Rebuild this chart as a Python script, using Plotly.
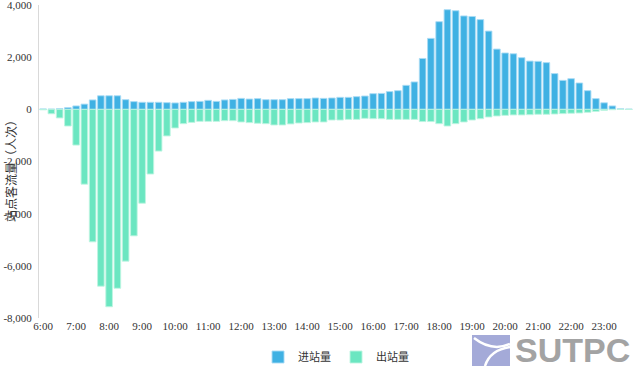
import plotly.graph_objects as go

times = [f"{h}:{m:02d}" for h in range(6, 24) for m in (0, 15, 30, 45)]
hour_labels = [f"{h}:00" for h in range(6, 24)]

inbound = [15, 10, 25, 65, 130, 200, 360, 520, 520, 520, 370, 295, 270, 270, 270, 255,
           245, 270, 295, 305, 345, 305, 360, 380, 420, 395, 410, 370, 370, 370, 410, 410,
           410, 435, 420, 435, 460, 460, 485, 510, 600, 610, 680, 715, 920, 1050, 1950, 2720,
           3360, 3820, 3780, 3580, 3560, 3440, 3000, 2310, 2160, 2130, 1980, 1850, 1840, 1790,
           1370, 1110, 1175, 1010, 715, 410, 250, 130, 20, 10]

outbound = [-20, -170, -330, -640, -1370, -2870, -5080, -6780, -7570, -6860, -5820, -4850,
            -3600, -2480, -1600, -1020, -715, -550, -500, -460, -460, -460, -435, -435,
            -485, -510, -535, -550, -600, -600, -560, -525, -510, -485, -485, -410,
            -410, -385, -385, -345, -360, -360, -385, -385, -385, -385, -470, -470,
            -550, -640, -550, -485, -410, -360, -295, -255, -230, -215, -215, -205,
            -190, -190, -180, -165, -150, -140, -115, -80, -40, -15, -5, -5]

y_ticks = [-8000, -6000, -4000, -2000, 0, 2000, 4000]
y_tick_text = [f"{v:,}" for v in y_ticks]

fig = go.Figure()
fig.add_trace(go.Bar(x=times, y=inbound, name="进站量",
                     marker=dict(color="#3fb1e3", line=dict(color="rgba(170,220,245,0.9)", width=1))))
fig.add_trace(go.Bar(x=times, y=outbound, name="出站量",
                     marker=dict(color="#6be6c1", line=dict(color="rgba(190,245,225,0.9)", width=1))))

fig.update_layout(
    width=634, height=366,
    margin=dict(l=39, r=1, t=5, b=48, autoexpand=False),
    barmode="relative", bargap=0.2,
    plot_bgcolor="white", paper_bgcolor="white",
    font=dict(family="Liberation Serif", size=11, color="#333"),
    showlegend=True,
    legend=dict(orientation="h", x=0.53, xanchor="center", xref="container",
                y=(366 - 357) / 366, yanchor="middle", yref="container",
                font=dict(family="Noto Sans CJK SC", size=11, color="#333"),
                itemwidth=30, traceorder="normal"),
    xaxis=dict(type="category", range=[-0.5, 71.5], tickmode="array",
               tickvals=hour_labels, ticktext=hour_labels, showgrid=False,
               showline=False, ticks="", tickangle=0, automargin=False,
               ticklabeloverflow="allow",
               tickfont=dict(family="Liberation Serif", size=11, color="#333")),
    yaxis=dict(range=[-8000, 4000], tickmode="array", tickvals=y_ticks, ticktext=y_tick_text,
               showgrid=False, zeroline=False, showline=True, linecolor="#d9d9d9", linewidth=1,
               ticks="", ticklabelstandoff=4, automargin=False, ticklabeloverflow="allow",
               tickfont=dict(family="Liberation Serif", size=11, color="#333")),
)

def px(x):
    return (x - 39) / 594

def py(y):
    return (318 - y) / 313

fig.add_annotation(text="站点客流量（人次）", textangle=-90, xref="paper", yref="paper",
                   x=px(10), y=py(168), xanchor="center", yanchor="middle", showarrow=False,
                   font=dict(family="Noto Sans CJK SC", size=12, color="#333"))

# SUTPC watermark logo
fig.add_shape(type="rect", xref="paper", yref="paper",
              x0=px(472), x1=px(510), y0=py(366), y1=py(335),
              fillcolor="#a4aad8", line=dict(width=0), layer="above")
fig.add_shape(type="path", xref="paper", yref="paper",
              path=f"M {px(474)} {py(338)} Q {px(492)} {py(352)} {px(510)} {py(344)}",
              line=dict(color="white", width=2.5), layer="above")
fig.add_shape(type="path", xref="paper", yref="paper",
              path=f"M {px(485)} {py(366)} Q {px(490)} {py(350)} {px(510)} {py(347)}",
              line=dict(color="white", width=2.5), layer="above")
fig.add_annotation(text="<b>SUTPC</b>", xref="paper", yref="paper",
                   x=px(572), y=py(350), xanchor="center", yanchor="middle", showarrow=False,
                   font=dict(family="Liberation Sans", size=34, color="#a3a3a3"))

fig.write_html("out.html", config={"displayModeBar": False},
               post_script="document.body.style.margin='0';document.body.style.overflow='hidden';")
